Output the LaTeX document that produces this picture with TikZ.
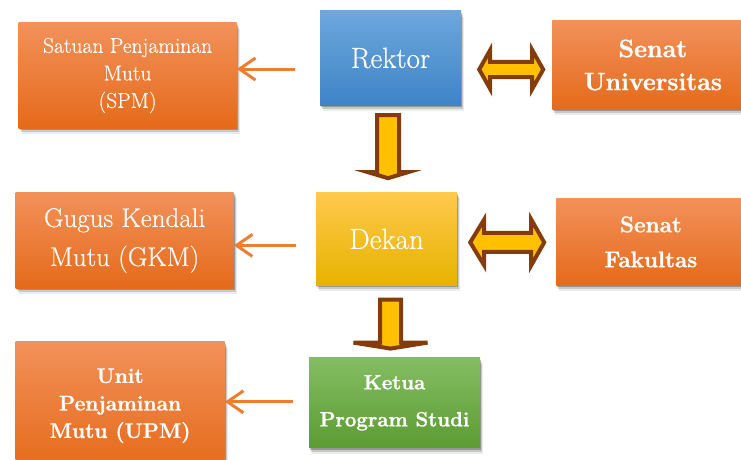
\documentclass[tikz,border=0pt]{standalone}
\usepackage{fontspec}
\setmainfont{Latin Modern Roman}[FakeBold=0.4, BoldFeatures={FakeBold=1.2}]
\usetikzlibrary{positioning,shadows,arrows.meta}

\definecolor{orangeTop}{HTML}{F2915A}
\definecolor{orangeBot}{HTML}{E56A1A}
\definecolor{blueTop}{HTML}{6DA7DD}
\definecolor{blueBot}{HTML}{3E84C6}
\definecolor{goldTop}{HTML}{FFC94C}
\definecolor{goldBot}{HTML}{E6B300}
\definecolor{greenTop}{HTML}{84BD63}
\definecolor{greenBot}{HTML}{5C9C32}
\definecolor{arrowBrown}{HTML}{843C0C}
\definecolor{arrowGold}{HTML}{FFC000}
\definecolor{lineOrange}{HTML}{ED7D31}

\begin{document}
\begin{tikzpicture}[
    x=1pt, y=1pt,
    shadowed/.style={drop shadow={shadow xshift=1pt, shadow yshift=-2pt, opacity=.25, fill=black},
                     drop shadow={shadow xshift=2pt, shadow yshift=-4pt, opacity=.15, fill=black},
                     drop shadow={shadow xshift=3pt, shadow yshift=-6pt, opacity=.08, fill=black}},
    box/.style={rectangle, inner sep=2pt, align=center, text=white, shadowed},
    rektorat/.style={top color=blueTop, bottom color=blueBot},
    fakultas/.style={top color=goldTop, bottom color=goldBot},
    prodi/.style={top color=greenTop, bottom color=greenBot},
    organ/.style={top color=orangeTop, bottom color=orangeBot},
    info/.style={-{Straight Barb[length=16pt,width=22pt]}, line width=3pt, draw=lineOrange},
    blockarrow/.style={draw=arrowBrown, fill=arrowGold, line width=4pt, line join=miter}
]
    \useasboundingbox (0,0) rectangle (741,-460);

    \node[box, rektorat, minimum width=141pt, minimum height=94pt,
          font=\fontsize{29}{34}\selectfont] (rektor) at (390.5,-58) {Rektor};

    \node[box, fakultas, minimum width=141pt, minimum height=93pt,
          font=\fontsize{29}{34}\selectfont, below=87pt of rektor, xshift=-4pt] (dekan) {Dekan};

    \node[box, prodi, minimum width=171pt, minimum height=90pt,
          font=\bfseries\fontsize{20.5}{37}\selectfont, below=72pt of dekan, xshift=8pt] (ketua) {
        Ketua \\
        Program Studi
    };

    \node[box, organ, minimum width=218pt, minimum height=105pt,
          font=\fontsize{21.5}{27.5}\selectfont, left=83pt of rektor, yshift=-17.5pt] (spm) {
        Satuan Penjaminan \\
        Mutu \\
        (SPM)
    };

    \node[box, organ, minimum width=218pt, minimum height=96pt,
          font=\fontsize{27}{39}\selectfont, left=82pt of dekan, yshift=-1.5pt] (gkm) {
        Gugus Kendali \\
        Mutu (GKM)
    };

    \node[box, organ, minimum width=209pt, minimum height=128pt,
          font=\bfseries\fontsize{21}{27.5}\selectfont, left=84pt of ketua, yshift=-3pt] (upm) {
        Unit \\
        Penjaminan \\
        Mutu (UPM)
    };

    \node[box, organ, minimum width=201pt, minimum height=88pt,
          font=\bfseries\fontsize{25}{33}\selectfont, right=91pt of rektor, yshift=-7pt] (senatu) {
        Senat \\
        Universitas
    };

    \node[box, organ, minimum width=189pt, minimum height=87pt,
          font=\bfseries\fontsize{22.5}{35}\selectfont, right=99pt of dekan, yshift=-3pt] (senatf) {
        Senat \\
        Fakultas
    };

    % thin arrows to the quality units
    \coordinate (spmfrom) at ([xshift=-25pt,yshift=-11pt]rektor.west);
    \coordinate (gkmfrom) at ([xshift=-20pt,yshift=-6.5pt]dekan.west);
    \coordinate (upmfrom) at ([xshift=-16pt,yshift=1pt]ketua.west);
    \draw[info] (spmfrom) -- (spmfrom -| spm.east);
    \draw[info] (gkmfrom) -- (gkmfrom -| gkm.east);
    \draw[info] (upmfrom) -- (upmfrom -| upm.east);

    % block arrows down the line
    \draw[blockarrow] ([xshift=-13.5pt,yshift=-10pt]rektor.south) -- ++(0,-57) -- ++(-9,0)
        -- ++(20,-6) -- ++(20,6) -- ++(-9,0) -- ++(0,57) -- cycle;
    \draw[blockarrow] ([xshift=-6.5pt,yshift=-14pt]dekan.south) -- ++(0,-43) -- ++(-26.5,0)
        -- ++(37,-6) -- ++(37,6) -- ++(-26.5,0) -- ++(0,43) -- cycle;

    % two-way arrows to the senates
    \draw[blockarrow] ([xshift=18pt,yshift=-11.5pt]rektor.east) -- ++(11,19.5) -- ++(0,-12)
        -- ++(42,0) -- ++(0,12) -- ++(11,-19.5) -- ++(-11,-19.5) -- ++(0,12)
        -- ++(-42,0) -- ++(0,-12) -- cycle;
    \draw[blockarrow] ([xshift=13pt,yshift=-3.5pt]dekan.east) -- ++(14,23) -- ++(0,-13.5)
        -- ++(47,0) -- ++(0,13.5) -- ++(13,-23) -- ++(-13,-23) -- ++(0,13.5)
        -- ++(-47,0) -- ++(0,-13.5) -- cycle;
\end{tikzpicture}
\end{document}
